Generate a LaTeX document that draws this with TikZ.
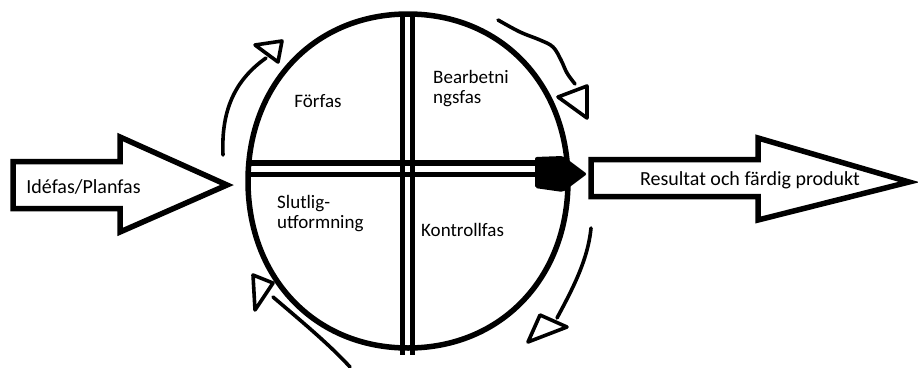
\documentclass[tikz,border=0pt]{standalone}
\usepackage{fontspec}
\setmainfont{Carlito}
\usepackage{tikz}

\begin{document}
\begin{tikzpicture}[x=1pt,y=-1pt,
  heavy/.style={line width=5.5pt},
  hand/.style={line width=3.6pt,line cap=round,line join=round},
  phase/.style={font=\fontsize{19}{20}\selectfont,inner sep=0pt,align=left},
  bigtext/.style={font=\fontsize{20}{22}\selectfont,inner sep=0pt}]
  \useasboundingbox (0,0) rectangle (918,367);
  \def\cx{408}\def\cy{181}
  \draw[heavy,line join=round] (\cx+160,\cy) .. controls (\cx+160,\cy+97) and (\cx+93,\cy+167) .. (\cx,\cy+167)
    .. controls (\cx-93,\cy+167) and (\cx-160,\cy+97) .. (\cx-160,\cy)
    .. controls (\cx-160,\cy-97) and (\cx-93,\cy-167) .. (\cx,\cy-167)
    .. controls (\cx+93,\cy-167) and (\cx+160,\cy-97) .. (\cx+160,\cy) -- cycle;
  \foreach \x in {402.5,412.5} \draw[heavy] (\x,12)--(\x,355);
  \foreach \y in {163,174.5} \draw[heavy] (248,\y)--(537,\y);
  \fill[rounded corners=2pt] (535,157)--(563,156)--(587,174)--(563,192)--(535,188)--cycle;
  \draw[heavy] (13,161.5)--(120,161.5)--(120,137)--(227,185)--(120,232)--(120,208.5)--(13,208.5)--cycle;
  \draw[heavy] (591,159.5)--(758,159.5)--(758,138)--(909,182)--(758,220)--(758,196.5)--(591,196.5)--cycle;
  \node[bigtext,anchor=base] (idefas) at (83.5,193) {Idéfas/Planfas};
  \node[bigtext,anchor=base] (result) at (750,185) {Resultat och färdig produkt};
  \node[phase,anchor=base] (forfas) at (318,107) {Förfas};
  \node[phase,anchor=base west] (bearb) at (433,103) {Bearbetni\\ngsfas};
  \node[phase,anchor=base west] (slut) at (277,228) {Slutlig-\\utformning};
  \node[phase,anchor=base west] (kontroll) at (421,236) {Kontrollfas};
  \draw[hand] (223,155) .. controls (221,110) and (235,80) .. (266,58);
  \draw[hand] (255,45)--(282,41)--(278,62)--cycle;
  \draw[hand] plot[smooth,tension=0.6] coordinates {(498,20) (520,32) (540,40) (553,47) (561,60) (567,73) (575,84)};
  \draw[hand] (558,97)--(587,86)--(587,118)--cycle;
  \draw[hand] (591,228) .. controls (588,260) and (572,290) .. (557,318);
  \draw[hand] (540,315)--(567,327)--(528,342)--cycle;
  \draw[hand] (350,367) .. controls (330,345) and (300,320) .. (273,297);
  \draw[hand] (253,275)--(273,283)--(255,310)--cycle;
\end{tikzpicture}
\end{document}
